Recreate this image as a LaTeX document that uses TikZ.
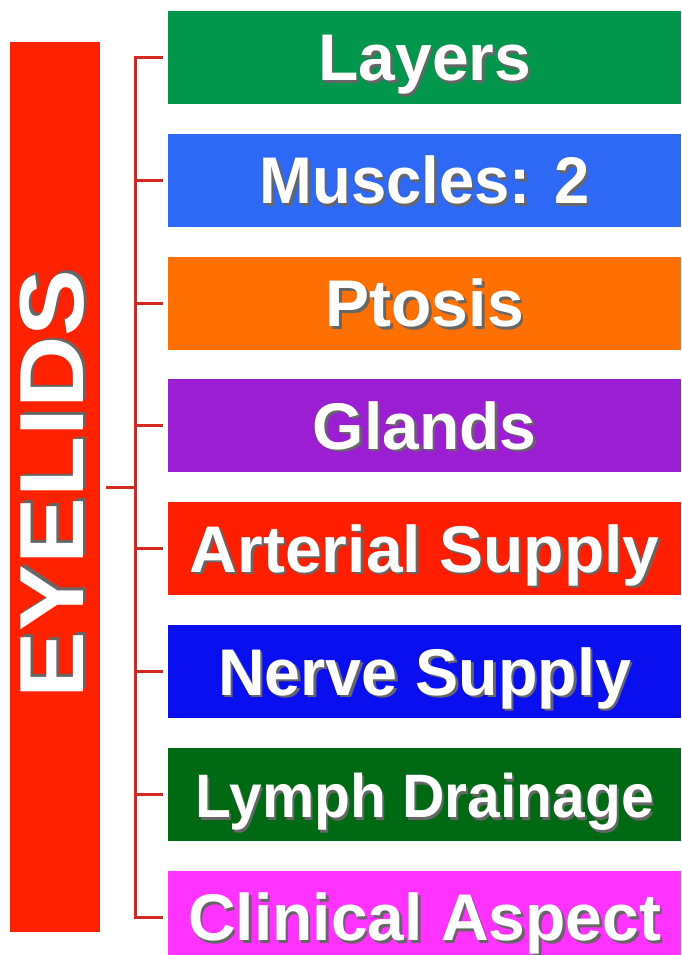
\documentclass[tikz,border=0pt]{standalone}
\usepackage{fontspec}
\setmainfont{Liberation Sans}
\usetikzlibrary{positioning}
\definecolor{barred}{RGB}{255,34,0}
\definecolor{brk}{RGB}{214,40,30}
\definecolor{cLayers}{RGB}{0,150,75}
\definecolor{cMuscles}{RGB}{45,105,245}
\definecolor{cPtosis}{RGB}{255,112,0}
\definecolor{cGlands}{RGB}{155,30,210}
\definecolor{cArterial}{RGB}{255,30,0}
\definecolor{cNerve}{RGB}{10,15,240}
\definecolor{cLymph}{RGB}{0,105,20}
\definecolor{cClinical}{RGB}{255,50,255}
\newcommand{\shtxt}[1]{\rlap{\kern2.5pt\raisebox{-2.5pt}{\color{black!60}#1}}#1}

\begin{document}
\begin{tikzpicture}[x=1pt,y=-1pt,
    itembox/.style={fill=#1, anchor=west, minimum width=513pt, minimum height=93pt,
      inner sep=0pt, text height=47pt, text depth=0pt, text=white,
      font=\fontsize{66}{66}\selectfont\bfseries},
    bracket/.style={draw=brk, line width=3pt}]
    \clip (0,0) rectangle (681,955);
    \fill[white] (0,0) rectangle (681,955);
    % title bar
    \node[fill=barred, minimum width=90pt, minimum height=890pt, inner sep=0pt] (bar) at (55,487) {};
    \node[rotate=90, xscale=1.1, text=white, inner sep=0pt, text height=65pt, text depth=0pt,
      font=\fontsize{91}{91}\selectfont\bfseries] (title) at (51,484) {\shtxt{EYELIDS}};
    % topic boxes
    \foreach \t/\c/\sx/\sy [count=\i from 0] in {Layers/cLayers/1/1, Muscles: 2/cMuscles/0.96/1,
      Ptosis/cPtosis/1/1, Glands/cGlands/1/1, Arterial Supply/cArterial/1/1,
      Nerve Supply/cNerve/0.98/1, Lymph Drainage/cLymph/0.89/0.93,
      Clinical Aspect/cClinical/1/1}
      \node[itembox=\c] (b\i) at (168,57.5+122.8*\i) {\scalebox{\sx}[\sy]{\shtxt{\t}}};
    % bracket
    \coordinate (spine) at (135,0);
    \draw[bracket] ([xshift=-5pt]b0.west) -- (b0.west -| spine) -- (b7.west -| spine) -- ([xshift=-5pt]b7.west);
    \foreach \i in {1,...,6}
      \draw[bracket] (b\i.west -| spine) -- ([xshift=-5pt]b\i.west);
    \draw[bracket] ([xshift=6pt]bar.east) -- (bar.east -| spine);
\end{tikzpicture}
\end{document}
